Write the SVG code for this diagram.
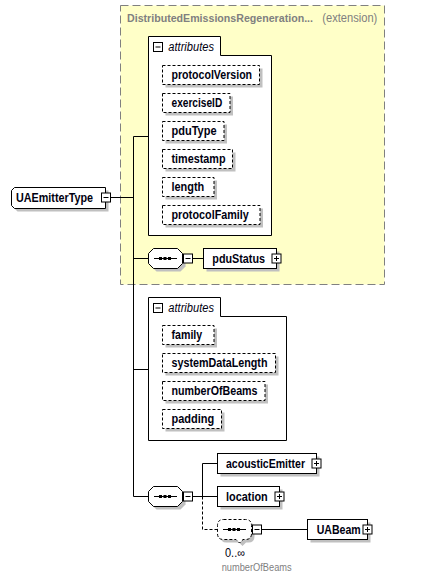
<svg xmlns="http://www.w3.org/2000/svg" width="427" height="580" viewBox="0 0 427 580">
<style>
.name{font-family:"Liberation Sans",Arial,sans-serif;font-size:12px;font-weight:bold;fill:#000010}
.box{fill:#fff;stroke:#000;stroke-width:1}
.attr{fill:#fff;stroke:#000;stroke-width:1;stroke-dasharray:3,2}
.sh{fill:#c0c0c0}
.ico{fill:#fff;stroke:#000;stroke-width:1}
.il{stroke:#000;stroke-width:1;fill:none}
.con{stroke:#000;stroke-width:1;fill:none}
.dash{stroke:#000;stroke-width:1;fill:none;stroke-dasharray:3,2}
.gray{font-family:"Liberation Sans",Arial,sans-serif;fill:#808080}
.it{font-family:"Liberation Sans",Arial,sans-serif;font-size:12px;font-style:italic;fill:#000010}
</style>
<rect width="427" height="580" fill="#fff"/>
<g id="extension">
<rect x="120.5" y="5.5" width="264" height="279" fill="#ffffc8" stroke="#808080" stroke-dasharray="8,4"/>
<text class="gray" x="127" y="22.3" font-size="11" font-weight="bold" textLength="186" lengthAdjust="spacingAndGlyphs">DistributedEmissionsRegeneration...</text>
<text class="gray" x="322.3" y="22.3" font-size="12" textLength="55" lengthAdjust="spacingAndGlyphs">(extension)</text>
</g>
<g id="connectors">
<path class="con" d="M110,197.5 H133.5 M133.5,136.5 V496.5 M133.5,136.5 H148.5 M133.5,258.5 H148.5 M133.5,369.5 H148.5 M133.5,496.5 H148.5 M192.5,258.5 H203.5 M192.5,496.5 H217.5 M202.5,463.5 V496.5 M202.5,463.5 H217.5 M261.5,529.5 H307.5"/>
<path class="dash" d="M202.5,496.5 V529.5 H217.5"/>
</g>
<g id="UAEmitterType">
<path class="sh" d="M17.5,190.5 H108.5 V211.5 H17.5 L14.5,208.5 V193.5 Z"/>
<path class="box" d="M14.5,187.5 H105.5 V208.5 H14.5 L11.5,205.5 V190.5 Z"/>
<text class="name" x="16" y="202.3" textLength="77" lengthAdjust="spacingAndGlyphs">UAEmitterType</text>
<rect class="ico" x="101.5" y="193" width="9" height="9"/>
<path class="il" d="M103.5,197.5 H108.5"/>
</g>
<g id="attributes1">
<path class="box" d="M148.5,36.5 H220.5 V55.5 H271.5 V235.5 H148.5 Z"/>
<rect class="ico" x="153.5" y="42.5" width="9" height="9"/>
<path class="il" d="M155.5,47 H160.5"/>
<text class="it" x="168.3" y="51" textLength="45.7" lengthAdjust="spacingAndGlyphs">attributes</text>
</g>
<g id="protocolVersion"><rect class="sh" x="165.5" y="68.5" width="97" height="19"/><rect class="attr" x="162.5" y="65.5" width="97" height="19"/><text class="name" x="171.5" y="79.3" textLength="80.6" lengthAdjust="spacingAndGlyphs">protocolVersion</text></g>
<g id="exerciseID"><rect class="sh" x="165.5" y="96.5" width="67.5" height="19"/><rect class="attr" x="162.5" y="93.5" width="67.5" height="19"/><text class="name" x="171.5" y="107.3" textLength="50.7" lengthAdjust="spacingAndGlyphs">exerciseID</text></g>
<g id="pduType"><rect class="sh" x="165.5" y="124.5" width="61.5" height="19"/><rect class="attr" x="162.5" y="121.5" width="61.5" height="19"/><text class="name" x="171.5" y="135.3" textLength="45" lengthAdjust="spacingAndGlyphs">pduType</text></g>
<g id="timestamp"><rect class="sh" x="165.5" y="152.5" width="70" height="19"/><rect class="attr" x="162.5" y="149.5" width="70" height="19"/><text class="name" x="171.5" y="163.3" textLength="54" lengthAdjust="spacingAndGlyphs">timestamp</text></g>
<g id="length"><rect class="sh" x="165.5" y="180.5" width="51.5" height="19"/><rect class="attr" x="162.5" y="177.5" width="51.5" height="19"/><text class="name" x="171.5" y="191.3" textLength="32.7" lengthAdjust="spacingAndGlyphs">length</text></g>
<g id="protocolFamily"><rect class="sh" x="165.5" y="208.5" width="97.5" height="19"/><rect class="attr" x="162.5" y="205.5" width="97.5" height="19"/><text class="name" x="171.5" y="219.3" textLength="77.3" lengthAdjust="spacingAndGlyphs">protocolFamily</text></g>
<g id="sequence1">
<path class="sh" d="M156.5,251.5 H180.5 L185.5,256.5 V266.5 L180.5,271.5 H156.5 L151.5,266.5 V256.5 Z"/>
<path class="box" d="M153.5,248.5 H177.5 L182.5,253.5 V263.5 L177.5,268.5 H153.5 L148.5,263.5 V253.5 Z"/>
<path class="il" d="M154,258.5 H177"/>
<rect x="159" y="257" width="3" height="3" fill="#000"/><rect x="163.5" y="257" width="3" height="3" fill="#000"/><rect x="168" y="257" width="3" height="3" fill="#000"/>
<rect class="ico" x="183.5" y="254" width="9" height="9"/><path class="il" d="M185.5,258.5 H190.5"/>
</g>
<g id="pduStatus">
<rect class="sh" x="206.5" y="251.5" width="73" height="20"/><rect class="box" x="203.5" y="248.5" width="73" height="20"/>
<text class="name" x="212.3" y="263.3" textLength="52.7" lengthAdjust="spacingAndGlyphs">pduStatus</text>
<rect class="ico" x="272" y="254" width="9" height="9"/><path class="il" d="M274,258.5 H279 M276.5,256 V261"/>
</g>
<g id="attributes2">
<path class="box" d="M148.5,297.5 H220.5 V316.5 H286.5 V440.5 H148.5 Z"/>
<rect class="ico" x="153.5" y="303.5" width="9" height="9"/>
<path class="il" d="M155.5,308 H160.5"/>
<text class="it" x="168.3" y="312" textLength="45.7" lengthAdjust="spacingAndGlyphs">attributes</text>
</g>
<g id="family"><rect class="sh" x="165.5" y="328.5" width="51.5" height="19"/><rect class="attr" x="162.5" y="325.5" width="51.5" height="19"/><text class="name" x="171.5" y="339.3" textLength="30.7" lengthAdjust="spacingAndGlyphs">family</text></g>
<g id="systemDataLength"><rect class="sh" x="165.5" y="356.5" width="113" height="19"/><rect class="attr" x="162.5" y="353.5" width="113" height="19"/><text class="name" x="171.5" y="367.3" textLength="96" lengthAdjust="spacingAndGlyphs">systemDataLength</text></g>
<g id="numberOfBeams"><rect class="sh" x="165.5" y="384.5" width="102.5" height="19"/><rect class="attr" x="162.5" y="381.5" width="102.5" height="19"/><text class="name" x="171.5" y="395.3" textLength="86" lengthAdjust="spacingAndGlyphs">numberOfBeams</text></g>
<g id="padding"><rect class="sh" x="165.5" y="412.5" width="59" height="19"/><rect class="attr" x="162.5" y="409.5" width="59" height="19"/><text class="name" x="171.5" y="423.3" textLength="42.7" lengthAdjust="spacingAndGlyphs">padding</text></g>
<g id="sequence2">
<path class="sh" d="M156.5,489.5 H180.5 L185.5,494.5 V504.5 L180.5,509.5 H156.5 L151.5,504.5 V494.5 Z"/>
<path class="box" d="M153.5,486.5 H177.5 L182.5,491.5 V501.5 L177.5,506.5 H153.5 L148.5,501.5 V491.5 Z"/>
<path class="il" d="M154,496.5 H177"/>
<rect x="159" y="495" width="3" height="3" fill="#000"/><rect x="163.5" y="495" width="3" height="3" fill="#000"/><rect x="168" y="495" width="3" height="3" fill="#000"/>
<rect class="ico" x="183.5" y="492" width="9" height="9"/><path class="il" d="M185.5,496.5 H190.5"/>
</g>
<g id="acousticEmitter">
<rect class="sh" x="220.5" y="456.5" width="99" height="20"/><rect class="box" x="217.5" y="453.5" width="99" height="20"/>
<text class="name" x="226" y="468.3" textLength="79" lengthAdjust="spacingAndGlyphs">acousticEmitter</text>
<rect class="ico" x="312" y="459" width="9" height="9"/><path class="il" d="M314,463.5 H319 M316.5,461 V466"/>
</g>
<g id="location">
<rect class="sh" x="220.5" y="489.5" width="62" height="20"/><rect class="box" x="217.5" y="486.5" width="62" height="20"/>
<text class="name" x="226" y="501.3" textLength="41.7" lengthAdjust="spacingAndGlyphs">location</text>
<rect class="ico" x="275" y="492" width="9" height="9"/><path class="il" d="M277,496.5 H282 M279.5,494 V499"/>
</g>
<g id="sequence3">
<path class="sh" d="M226.5,522.5 H248.5 Q254.5,522.5 254.5,528.5 V536.5 Q254.5,542.5 248.5,542.5 H246 L242.5,546 L239,542.5 H226.5 Q220.5,542.5 220.5,536.5 V528.5 Q220.5,522.5 226.5,522.5 Z"/>
<path class="attr" d="M223.5,519.5 H245.5 Q251.5,519.5 251.5,525.5 V533.5 Q251.5,539.5 245.5,539.5 H243 L239.5,543 L236,539.5 H223.5 Q217.5,539.5 217.5,533.5 V525.5 Q217.5,519.5 223.5,519.5 Z"/>
<path class="il" d="M223,529.5 H246"/>
<rect x="228" y="528" width="3" height="3" fill="#000"/><rect x="232.5" y="528" width="3" height="3" fill="#000"/><rect x="237" y="528" width="3" height="3" fill="#000"/>
<rect class="ico" x="252.5" y="525" width="9" height="9"/><path class="il" d="M254.5,529.5 H259.5"/>
<text x="225" y="557" font-family="Liberation Sans,Arial,sans-serif" font-size="12" fill="#000010" textLength="20" lengthAdjust="spacingAndGlyphs">0..∞</text>
<text class="gray" x="221.7" y="571" font-size="10.5" textLength="70" lengthAdjust="spacingAndGlyphs">numberOfBeams</text>
</g>
<g id="UABeam">
<rect class="sh" x="310.5" y="522.5" width="60" height="20"/><rect class="box" x="307.5" y="519.5" width="60" height="20"/>
<text class="name" x="316.7" y="534.3" textLength="44" lengthAdjust="spacingAndGlyphs">UABeam</text>
<rect class="ico" x="363" y="525" width="9" height="9"/><path class="il" d="M365,529.5 H370 M367.5,527 V532"/>
</g>
</svg>
